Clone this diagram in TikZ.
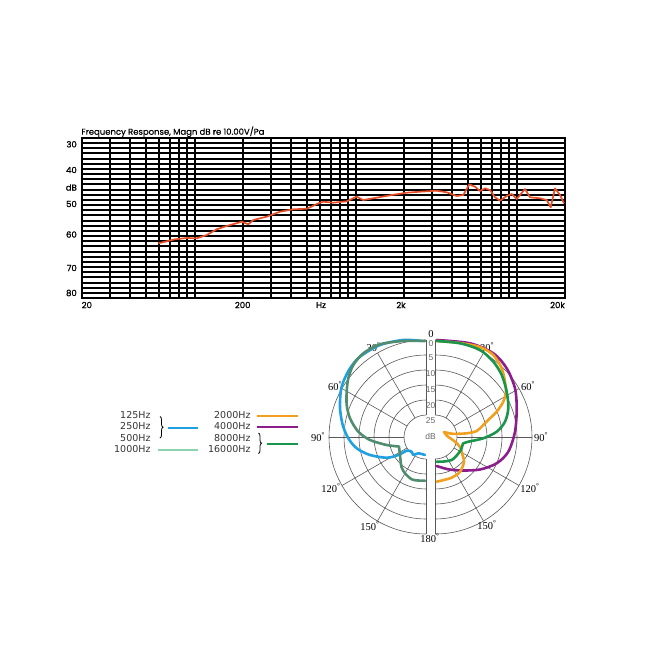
\documentclass[tikz,border=0pt]{standalone}
\usepackage{fontspec}
\usepackage{graphicx}
\setmainfont{Liberation Serif}
\newfontfamily\pop[FakeBold=1.2]{Poppins}
\newfontfamily\popt[FakeBold=0.6]{Poppins}
\newfontfamily\djv{DejaVu Sans}
\newfontfamily\lsans{Liberation Sans}
\usetikzlibrary{decorations.pathreplacing}
\definecolor{redc}{RGB}{230,78,40}
\definecolor{bluec}{RGB}{30,160,225}
\definecolor{sage}{RGB}{80,140,110}
\definecolor{mint}{RGB}{140,210,175}
\definecolor{greenc}{RGB}{25,150,75}
\definecolor{purp}{RGB}{140,30,140}
\definecolor{orng}{RGB}{240,160,30}
\tikzset{
  gridline/.style={line width=1.8pt,black},
  polarline/.style={line width=0.6pt,black!65},
  curve/.style={line width=2.6pt,line cap=round,line join=round},
  legline/.style={line width=2pt},
  axlab/.style={font=\pop\fontsize{8.5}{9}\selectfont,inner sep=0pt},
  leg/.style={font=\djv\fontsize{9.5}{10}\selectfont,anchor=east,inner sep=0pt,text=black!80},
  anglab/.style={font=\fontsize{10.5}{11}\selectfont,inner sep=0pt},
  ringlab/.style={font=\lsans\fontsize{8.5}{9}\selectfont,inner sep=0pt,text=black!60},
  bracestyle/.style={decorate,decoration={brace,amplitude=3pt},line width=0.8pt}
}
\begin{document}
\begin{tikzpicture}[x=1pt,y=-1pt]
\useasboundingbox (0,0) rectangle (645,645);
% ---------- frequency response grid ----------
\foreach \k in {1,...,30} {
  \pgfmathsetmacro\yy{round(138+\k*160/31)}
  \draw[gridline] (82,\yy) -- (565,\yy);
}
\foreach \e in {1,2,3}
  \foreach \m in {2,...,10} {
    \pgfmathsetmacro\xx{round(82+161*(log10(\m)+\e-1.30103))}
    \draw[gridline] (\xx,138) -- (\xx,298);
  }
\draw[gridline] (82,138) rectangle (565,298);
\node[anchor=south west,inner sep=0pt] (title) at (81.2,137.2)
  {\resizebox{183pt}{!}{\popt Frequency Response, Magn dB re 10.00V/Pa}};
\node[axlab,anchor=east] (y30) at (77,144.3) {30};
\node[axlab,anchor=east] (y40) at (77,170) {40};
\node[axlab,anchor=east] (ydb) at (77,187.5) {dB};
\node[axlab,anchor=east] (y50) at (77,204) {50};
\node[axlab,anchor=east] (y60) at (77,234.5) {60};
\node[axlab,anchor=east] (y70) at (77,268) {70};
\node[axlab,anchor=east] (y80) at (77,293) {80};
\node[axlab,anchor=west] (x20) at (81.5,305) {20};
\node[axlab] (x200) at (242.7,305) {200};
\node[axlab] (xhz) at (321,305) {Hz};
\node[axlab] (x2k) at (401,305) {2k};
\node[axlab,anchor=east] (x20k) at (565,305) {20k};
\draw[redc,line width=1.7pt,line join=round] plot coordinates {
(158.3,243.3) (175,239.3) (186.7,238) (196.7,238.3) (206.7,235) (216.7,229.3) (226.7,226) (241.7,221.7) (248.3,224.3) (253.3,220) (266.7,216.7) (280,211.7) (293.3,209.3) (306.7,208.7) (310,207.3) (318.3,203.3) (323.3,201.7) (333.3,202.7) (346.7,201.3) (356.7,196.7) (363.3,200) (376.7,197.7) (390,195.3) (406.7,192.7) (420,191.7) (436.7,190.7) (446.7,192.3) (456.7,196) (463.3,195) (469.3,184.3) (475,186.7) (480,191) (485,188.3) (490,190) (495,197.3) (500,200.7) (506.7,196) (511.7,194) (516.7,199) (525,189) (530,197.3) (540,198.3) (546.7,200) (550.7,207.3) (555,188.3) (560,195) (564,203.3)};
% ---------- polar plot ----------
\coordinate (L) at (426,437);
\coordinate (R) at (435,437);
\foreach \r in {22,37,52,67,82,97} {
  \draw[polarline] (L) ++(270:\r) arc[start angle=270,end angle=90,radius=\r];
  \draw[polarline] (R) ++(-90:\r) arc[start angle=-90,end angle=90,radius=\r];
}
\foreach \p in {30,60,90,120,150} {
  \draw[polarline,shift={(426,437)}] ({270-\p}:22) -- ({270-\p}:97);
  \draw[polarline,shift={(435,437)}] ({\p-90}:22) -- ({\p-90}:97);
}
\draw[polarline] (426,340) -- (426,415) (426,459) -- (426,534);
\draw[polarline] (435,340) -- (435,415) (435,459) -- (435,534);
\node[anglab] (a0) at (431,334) {0};
\node[ringlab] (r0) at (431,343.5) {0};
\node[ringlab] (r5) at (431,358) {5};
\node[ringlab] (r10) at (430.5,373.5) {10};
\node[ringlab] (r15) at (430.5,389.5) {15};
\node[ringlab] (r20) at (430.5,405.5) {20};
\node[ringlab] (r25) at (430.5,420.5) {25};
\node[ringlab] (rdb) at (430.5,436.5) {dB};
\node[anglab] (l30) at (373.5,347.5) {30\textsuperscript{°}};
\node[anglab] (l60) at (335,386) {60\textsuperscript{°}};
\node[anglab] (l90) at (318,437) {90\textsuperscript{°}};
\node[anglab] (l120) at (331,488.5) {120\textsuperscript{°}};
\node[anglab] (l150) at (370,526) {150\textsuperscript{°}};
\node[anglab] (b180) at (430,538) {180\textsuperscript{°}};
\node[anglab] (r30) at (487,347.5) {30\textsuperscript{°}};
\node[anglab] (r60) at (528,386) {60\textsuperscript{°}};
\node[anglab] (r90) at (541,437) {90\textsuperscript{°}};
\node[anglab] (r120) at (530,488.5) {120\textsuperscript{°}};
\node[anglab] (r150) at (487,525) {150\textsuperscript{°}};
% curves left
\draw[curve,bluec] plot[smooth,tension=0.5] coordinates {
(421.7,341) (403.3,340) (380,345) (360,356.7) (350,368.3) (343.3,381.7) (340.7,391.7) (340,408.3) (342.7,425) (348.3,438.3) (356.7,448.3) (370,455) (386.7,457.7) (398.3,455) (406.7,450.7) (411.7,451.7) (413.3,455) (418.3,453.3) (425,455)};
\draw[curve,sage] plot[smooth,tension=0.5] coordinates {
(425,341) (403.3,341) (380,344.3) (363.3,353.3) (353.3,365) (348.3,378.3) (346.7,391.7) (346.7,405) (350,418.3) (358.3,431.7) (370,440) (386.7,445) (399,446.5)}
 -- (400.3,458) plot[smooth,tension=0.5] coordinates {(400.3,458) (401.5,467) (405,473.3) (411.7,479.3) (418,480.5) (425,480.7)};
% curves right
\draw[curve,purp] plot[smooth,tension=0.5] coordinates {
(436.7,340) (470,343.3) (493.3,353.3) (506.7,368.3) (515,388.3) (516.7,408.3) (515,431.7) (508.3,451.7) (496.7,463.3) (480,469.5) (461.7,470.5) (448.3,469.3) (436.7,466)};
\draw[curve,orng] plot[smooth,tension=0.5] coordinates {
(436.7,341) (460,343) (480,347) (493.3,355) (501.7,368.3) (505,381.7) (506,391.7) (503.3,401.7) (496.7,411.7) (490,418.3) (483.3,425) (476.7,431) (466.7,433.3) (453,433.8) (444,432)}
 -- (447,436) plot[smooth,tension=0.5] coordinates {(447,436) (455,441.7) (460,447) (462.5,455) (464,462) (460,471.7) (451.7,477.7) (436.7,481.7)};
\draw[curve,greenc] plot[smooth,tension=0.5] coordinates {
(436.7,341) (460,343.3) (480,350) (493.3,361.7) (501.7,375) (506.7,391.7) (508.3,408.3) (505,421.7) (496.7,431.7) (483.3,438.3) (468.3,441.7) (463,443.5)}
 -- (461,450) plot[smooth,tension=0.5] coordinates {(461,450) (456.7,455.5) (451.7,460) (444,461.5) (436.7,461.7)};
% ---------- legend ----------
\node[leg] (f125) at (150.7,415) {125Hz};
\node[leg] (f250) at (150.7,426.5) {250Hz};
\node[leg] (f500) at (150.7,438) {500Hz};
\node[leg] (f1000) at (150.7,449.5) {1000Hz};
\node[leg] (f2000) at (250.7,415) {2000Hz};
\node[leg] (f4000) at (250.7,426.5) {4000Hz};
\node[leg] (f8000) at (250.7,438) {8000Hz};
\node[leg] (f16000) at (250.7,449.5) {16000Hz};
\draw[bracestyle] (160,416.5) -- (160,438);
\draw[bracestyle] (258.5,433) -- (258.5,453.5);
\draw[legline,bluec] (167.7,427.5) -- (198.3,427.5);
\draw[legline,mint] (158.3,450) -- (198.3,450);
\draw[legline,orng] (256.7,415.7) -- (297.7,415.7);
\draw[legline,purp] (256.7,427) -- (297.7,427);
\draw[legline,greenc] (266.7,444) -- (297.7,444);
\end{tikzpicture}
\end{document}
